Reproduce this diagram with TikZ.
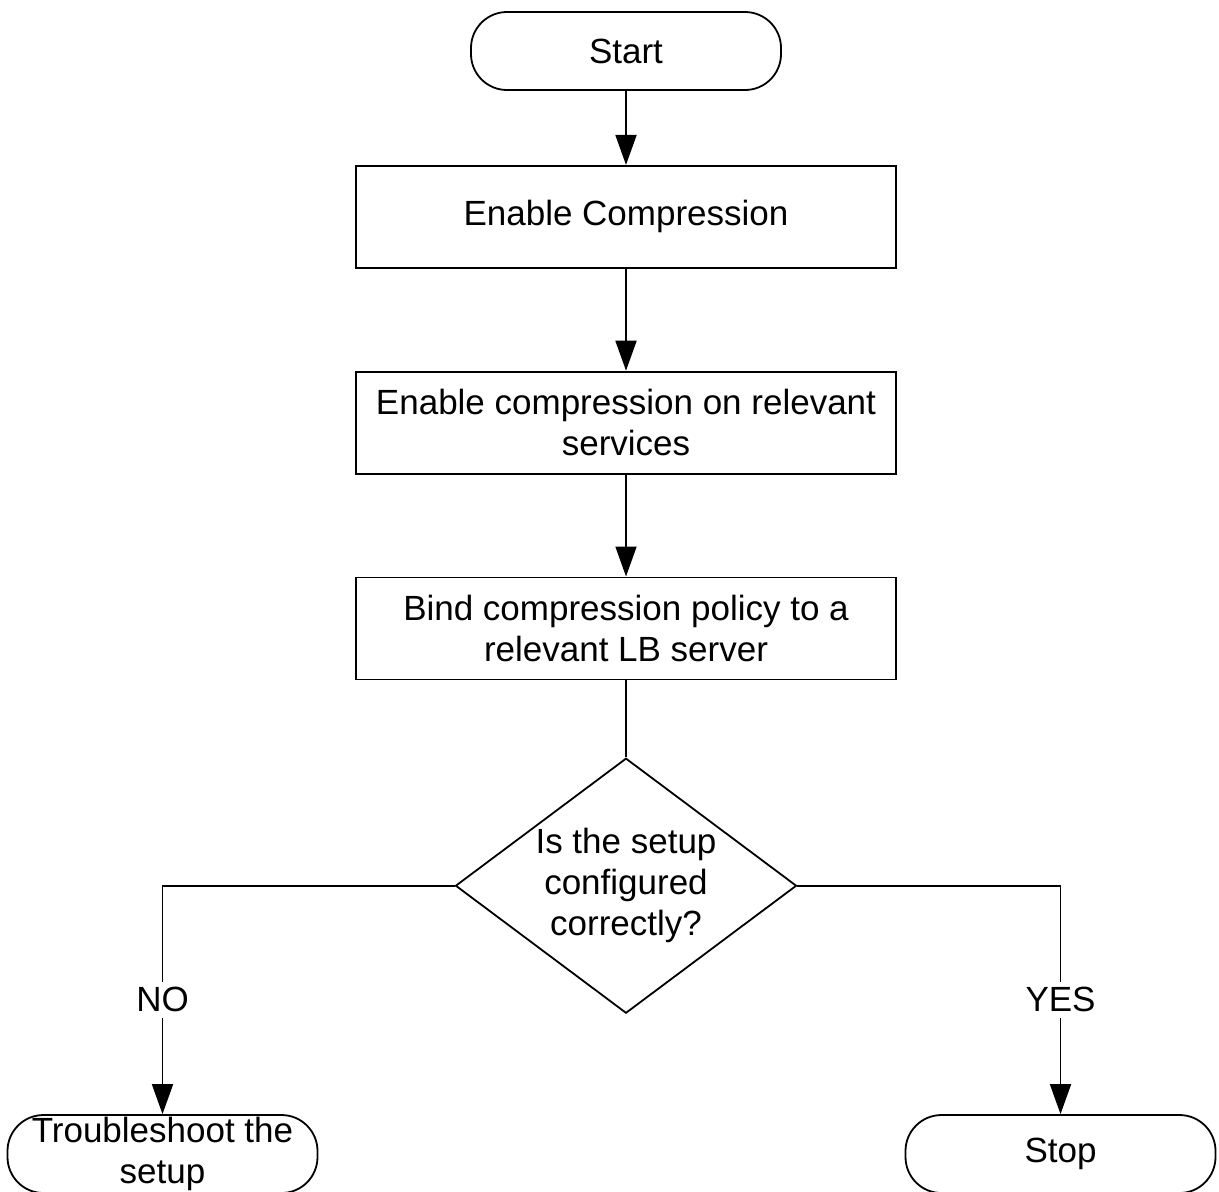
\documentclass[tikz,border=0pt]{standalone}
\usepackage{fontspec}
\setmainfont{Liberation Sans}
\usepackage{tikz}
\usetikzlibrary{shapes.geometric, arrows.meta, positioning}

\begin{document}
\begin{tikzpicture}[x=0.5pt, y=-0.5pt]
					\tikzstyle{every node}=[font=\fontsize{17.5}{20.5}\selectfont, text=black]
					\tikzstyle{terminal}=[rectangle, rounded corners=18pt, draw=black, line width=0.9pt, minimum width=155pt, minimum height=39pt, inner sep=0pt, align=center]
					\tikzstyle{process}=[rectangle, draw=black, line width=0.9pt, minimum width=270pt, minimum height=51pt, inner sep=0pt, align=center]
					\tikzstyle{decision}=[diamond, aspect=1.34, draw=black, line width=0.9pt, minimum width=170.5pt, minimum height=127.5pt, inner sep=0pt, align=center]
					\tikzstyle{flow}=[draw=black, line width=0.9pt, -{Triangle[length=15pt, width=10.5pt]}]
					\tikzstyle{link}=[draw=black, line width=0.9pt]
					\tikzstyle{answer}=[fill=white, inner sep=3pt]
					\useasboundingbox (0,0) rectangle (1219,1191);
					% nodes
					\node[terminal] (start) at (626,51) {Start};
					\node[process, below=37pt of start] (enable) {Enable Compression};
					\node[process, below=51pt of enable] (services) {Enable compression on relevant\\services};
					\node[process, below=51pt of services] (bind) {Bind compression policy to a\\relevant LB server};
					\node[decision, below=38.5pt of bind] (check) {Is the setup\\configured\\correctly?};
					\node[terminal, below=50pt of check, xshift=-231.75pt] (trouble) {Troubleshoot the\\setup};
					\node[terminal, below=50pt of check, xshift=217.25pt] (stop) {Stop};
					% connectors
					\draw[flow] (start) -- (enable);
					\draw[flow] (enable) -- (services);
					\draw[flow] (services) -- (bind);
					\draw[link] (bind) -- (check);
					\draw[flow] (check.west) -| node[answer, pos=0.75] (no) {NO} (trouble.north);
					\draw[flow] (check.east) -| node[answer, pos=0.75] (yes) {YES} (stop.north);
				\end{tikzpicture}
\end{document}
